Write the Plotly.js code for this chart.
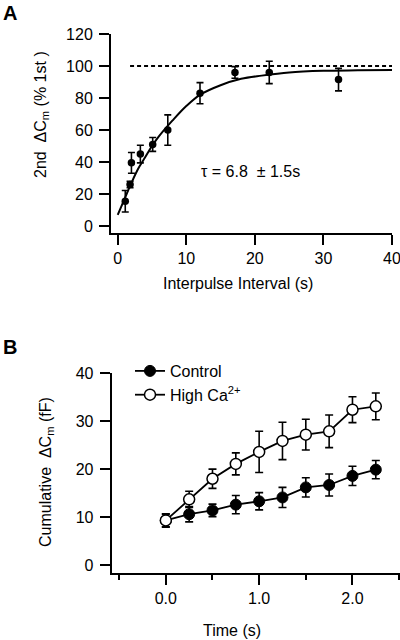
<!DOCTYPE html>
<html>
<head>
<meta charset="utf-8">
<script src="https://cdn.plot.ly/plotly-3.0.1.min.js"></script>
<style>html,body{margin:0;padding:0;background:#fff;}#chart{width:400px;height:640px;}</style>
</head>
<body>
<div id="chart"></div>
<script>
// Panel A data
var intervalX = [1.1, 1.8, 2.0, 3.3, 5.1, 7.3, 12.0, 17.1, 22.1, 32.2];
var ratioY    = [15.5, 26, 39.5, 45, 51, 60, 83, 96, 96, 91.5];
var ratioErr  = [6.7, 2, 6.5, 5.5, 4.3, 9.5, 6.6, 3.6, 7, 7];
var fitX = [0, 1, 2, 3, 4, 5, 6, 8, 10, 12, 15, 18, 21, 25, 30, 35, 40];
var fitY = [7, 17, 27, 36, 43, 50, 56, 66, 75, 82, 88, 92, 94, 96, 97, 97.3, 97.5];
var refX = [1.8, 40];
var refY = [100, 100];
var xTickValsA = [0, 10, 20, 30, 40];
var yTickValsA = [0, 20, 40, 60, 80, 100, 120];

// Panel B data
var timeX   = [0, 0.25, 0.5, 0.75, 1.0, 1.25, 1.5, 1.75, 2.0, 2.25];
var controlY   = [9.3, 10.6, 11.4, 12.6, 13.3, 14.1, 16.2, 16.7, 18.6, 19.9];
var controlErr = [1.4, 1.6, 1.3, 1.9, 1.8, 2.1, 2.0, 2.3, 2.0, 1.9];
var highCaY    = [9.3, 13.7, 18.0, 21.1, 23.6, 25.9, 27.2, 27.9, 32.4, 33.1];
var highCaErr  = [1.3, 1.7, 2.0, 2.3, 4.3, 3.9, 3.2, 3.4, 2.7, 2.8];
var xTickValsB = [0, 1, 2];
var xTickTextB = ["0.0", "1.0", "2.0"];
var xMinorB    = [-0.5, 0.5, 1.5, 2.5];
var yTickValsB = [0, 10, 20, 30, 40];

var FONT = "Liberation Sans, Arial, sans-serif";
var W = 400, H = 640;
function px(x){ return x / W; }
function py(y){ return 1 - y / H; }

var traces = [
  {x: refX, y: refY, xaxis:'x', yaxis:'y', mode:'lines', showlegend:false,
   line:{color:'black', width:2, dash:'4px,3px'}, hoverinfo:'skip'},
  {x: fitX, y: fitY, xaxis:'x', yaxis:'y', mode:'lines', showlegend:false,
   line:{color:'black', width:2, shape:'spline'}},
  {x: intervalX, y: ratioY, xaxis:'x', yaxis:'y', mode:'markers', showlegend:false,
   marker:{color:'black', size:7.5},
   error_y:{type:'data', array: ratioErr, visible:true, color:'black', thickness:1.6, width:3.5}},
  {x: timeX, y: controlY, xaxis:'x2', yaxis:'y2', mode:'lines+markers', name:'Control',
   line:{color:'black', width:1.8},
   marker:{color:'black', size:11, line:{color:'black', width:1}},
   error_y:{type:'data', array: controlErr, visible:true, color:'black', thickness:1.6, width:4}},
  {x: timeX, y: highCaY, xaxis:'x2', yaxis:'y2', mode:'lines+markers', name:'High Ca<sup>2+</sup>',
   line:{color:'black', width:1.8},
   marker:{color:'white', size:11, line:{color:'black', width:1.5}},
   error_y:{type:'data', array: highCaErr, visible:true, color:'black', thickness:1.6, width:4}}
];

var axisCommon = {
  showgrid:false, zeroline:false, showline:true, linecolor:'black', linewidth:2,
  ticks:'outside', ticklen:10, tickwidth:2, tickcolor:'black', ticklabeloverflow:'allow',
  tickfont:{family:FONT, size:16, color:'black'}, fixedrange:true
};
function ax(o){ return Object.assign({}, axisCommon, o); }
function ann(o){ return Object.assign({xref:'paper', yref:'paper', showarrow:false, xanchor:'center', yanchor:'middle',
  font:{size:16, family:FONT, color:'black'}}, o); }

var layout = {
  width: W, height: H,
  margin:{l:0, r:0, t:0, b:0},
  paper_bgcolor:'white', plot_bgcolor:'white',
  font:{family:FONT, size:16, color:'black'},
  xaxis: ax({domain:[px(111), px(392)], range:[-0.98, 40], tickvals:xTickValsA, anchor:'y'}),
  yaxis: ax({domain:[py(232.5), py(34)], range:[-4, 120], tickvals:yTickValsA, anchor:'x', ticklabelstandoff:3}),
  xaxis2: ax({domain:[px(111.7), px(399.5)], range:[-0.58, 2.504], tickvals:xTickValsB, ticktext:xTickTextB, anchor:'y2',
              minor:{tickvals:xMinorB, ticks:'outside', ticklen:5, tickwidth:2, tickcolor:'black', showgrid:false}}),
  yaxis2: ax({domain:[py(572.7), py(373.3)], range:[-1.6, 40], tickvals:yTickValsB, anchor:'x2', ticklabelstandoff:3}),
  showlegend:true,
  legend:{x:px(130), y:py(354), xanchor:'left', yanchor:'top', bgcolor:'rgba(0,0,0,0)',
          font:{family:FONT, size:16, color:'black'}, tracegroupgap:0},
  annotations:[
    ann({text:'<b>A</b>', x:px(10), y:py(13), font:{size:20, family:FONT, color:'black'}}),
    ann({text:'<b>B</b>', x:px(10), y:py(347), font:{size:20, family:FONT, color:'black'}}),
    ann({text:'2nd &nbsp;ΔC<sub>m</sub> (% 1st )', x:px(41), y:py(115), textangle:-90}),
    ann({text:'Interpulse Interval (s)', x:px(238), y:py(283)}),
    ann({text:'τ = 6.8 &nbsp;± 1.5s', xref:'x', yref:'y', x:19.3, y:34}),
    ann({text:'Cumulative &nbsp;ΔC<sub>m</sub> (fF)', x:px(46), y:py(472), textangle:-90}),
    ann({text:'Time (s)', x:px(232), y:py(630)})
  ]
};

Plotly.newPlot('chart', traces, layout, {staticPlot:true, displayModeBar:false});
</script>
</body>
</html>
